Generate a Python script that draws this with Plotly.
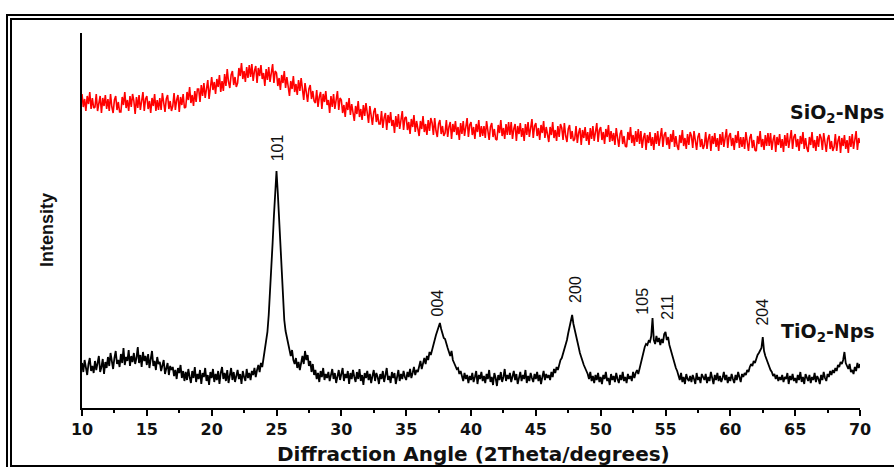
import plotly.graph_objects as go

# ---------------- data (intensity in arbitrary units) ----
angle_start = 10.0   # degrees 2-theta
angle_step = 0.1     # degrees per sample

tio2_counts = [
    45, 36, 48, 39, 33, 44, 50, 37, 42, 35,   # 10
    47, 38, 44, 52, 36, 41, 49, 34, 46, 40,   # 11
    51, 42, 55, 45, 39, 50, 57, 44, 48, 41,   # 12
    54, 45, 60, 43, 51, 47, 58, 42, 52, 46,   # 13
    55, 44, 50, 61, 45, 53, 41, 56, 47, 52,   # 14
    43, 54, 40, 49, 57, 42, 47, 38, 51, 44,   # 15
    46, 37, 43, 48, 34, 40, 45, 33, 42, 38,   # 16
    41, 32, 38, 29, 40, 35, 43, 30, 37, 27,   # 17
    36, 28, 39, 31, 25, 37, 30, 41, 26, 34,   # 18
    29, 38, 24, 35, 31, 40, 27, 33, 23, 36,   # 19
    30, 39, 26, 34, 28, 37, 24, 35, 41, 29,   # 20
    35, 27, 38, 25, 32, 40, 28, 36, 26, 33,   # 21
    38, 29, 34, 24, 37, 31, 27, 39, 30, 35,   # 22
    28, 37, 33, 40, 31, 38, 43, 36, 45, 41,   # 23
    50, 56, 64, 76, 93, 114, 140, 165, 192, 218,   # 24
    237, 215, 190, 158, 127, 104, 88, 77, 70, 63,  # 25
    57, 52, 58, 48, 44, 50, 40, 46, 38, 47,   # 26
    52, 44, 57, 48, 53, 42, 47, 36, 44, 33,   # 27
    38, 29, 35, 26, 37, 31, 40, 28, 34, 30,   # 28
    36, 27, 33, 39, 29, 35, 25, 32, 38, 28,   # 29
    33, 40, 27, 34, 30, 37, 24, 35, 29, 38,   # 30
    31, 26, 36, 29, 39, 27, 33, 23, 35, 30,   # 31
    37, 28, 34, 25, 32, 38, 27, 35, 31, 24,   # 32
    34, 29, 37, 26, 33, 40, 28, 32, 25, 36,   # 33
    30, 35, 24, 33, 38, 27, 34, 29, 37, 31,   # 34
    28, 36, 31, 39, 30, 35, 41, 33, 38, 36,   # 35
    42, 47, 39, 45, 50, 44, 52, 48, 56, 53,   # 36
    59, 64, 68, 73, 77, 81, 85, 79, 74, 70,   # 37
    69, 63, 60, 56, 52, 57, 48, 45, 42, 39,   # 38
    40, 34, 37, 31, 27, 35, 29, 33, 25, 32,   # 39
    28, 35, 26, 31, 37, 24, 33, 29, 36, 27,   # 40
    32, 25, 34, 29, 38, 26, 31, 23, 35, 30,   # 41
    22, 33, 28, 36, 26, 31, 39, 27, 33, 29,   # 42
    35, 26, 32, 37, 28, 34, 24, 31, 36, 27,   # 43
    33, 29, 38, 25, 32, 27, 35, 30, 26, 34,   # 44
    29, 36, 27, 33, 24, 31, 37, 28, 34, 30,   # 45
    33, 28, 36, 31, 39, 35, 41, 38, 44, 48,   # 46
    50, 54, 59, 63, 68, 75, 82, 88, 93, 84,   # 47
    79, 72, 68, 61, 55, 50, 46, 43, 40, 37,   # 48
    34, 29, 36, 27, 32, 25, 33, 28, 35, 26,   # 49
    31, 24, 33, 29, 36, 27, 30, 23, 34, 28,   # 50
    32, 26, 35, 29, 25, 33, 28, 36, 27, 31,   # 51
    25, 34, 29, 32, 27, 36, 30, 35, 38, 34,   # 52
    40, 45, 51, 58, 61, 64, 63, 67, 66, 72,   # 53
    90, 68, 64, 72, 66, 70, 63, 69, 65, 74,   # 54
    76, 68, 71, 63, 58, 54, 47, 44, 40, 37,   # 55
    33, 28, 35, 26, 31, 24, 34, 29, 27, 32,   # 56
    26, 33, 29, 24, 35, 28, 31, 25, 34, 30,   # 57
    28, 34, 25, 31, 27, 36, 29, 24, 33, 28,   # 58
    35, 27, 32, 26, 30, 36, 28, 33, 25, 31,   # 59
    27, 34, 29, 25, 33, 28, 36, 30, 26, 34,   # 60
    31, 35, 33, 38, 36, 41, 44, 42, 47, 45,   # 61
    50, 53, 55, 57, 60, 71, 57, 52, 48, 44,   # 62
    42, 38, 36, 32, 34, 29, 33, 27, 31, 28,   # 63
    33, 26, 31, 29, 35, 24, 32, 28, 34, 27,   # 64
    30, 25, 33, 28, 36, 26, 31, 24, 34, 29,   # 65
    27, 33, 25, 31, 28, 35, 26, 32, 29, 24,   # 66
    33, 28, 36, 30, 27, 34, 31, 37, 33, 38,   # 67
    35, 40, 37, 43, 41, 46, 44, 48, 56, 45,   # 68
    42, 39, 44, 36, 38, 34, 41, 37, 45, 40,   # 69
    44,                                       # 70
]

sio2_counts = [
    314, 301, 309, 297, 312, 304, 316, 299, 310, 300,   # 10
    301, 314, 297, 307, 312, 295, 310, 302, 313, 299,   # 11
    309, 297, 314, 301, 295, 308, 312, 298, 306, 296,   # 12
    296, 311, 303, 316, 300, 308, 297, 312, 301, 314,   # 13
    307, 294, 311, 300, 313, 298, 305, 316, 297, 309,   # 14
    312, 299, 307, 295, 310, 302, 314, 297, 308, 298,   # 15
    310, 298, 315, 302, 296, 309, 313, 299, 307, 297,   # 16
    302, 315, 298, 308, 313, 296, 311, 303, 314, 300,   # 17
    301, 316, 308, 321, 305, 313, 302, 317, 306, 319,   # 18
    319, 306, 323, 312, 325, 310, 317, 328, 309, 321,   # 19
    331, 318, 326, 314, 329, 321, 333, 316, 327, 317,   # 20
    334, 322, 339, 326, 320, 333, 337, 323, 331, 321,   # 21
    325, 340, 332, 345, 329, 337, 326, 341, 330, 343,   # 22
    331, 344, 327, 337, 342, 325, 340, 332, 343, 329,   # 23
    335, 322, 339, 328, 341, 326, 333, 344, 325, 337,   # 24
    335, 322, 330, 318, 333, 325, 337, 320, 331, 321,   # 25
    312, 327, 319, 332, 316, 324, 313, 328, 317, 330,   # 26
    320, 308, 325, 312, 306, 319, 323, 309, 317, 307,   # 27
    305, 318, 301, 311, 316, 299, 314, 306, 317, 303,   # 28
    308, 295, 312, 301, 314, 299, 306, 317, 298, 310,   # 29
    308, 295, 303, 291, 306, 298, 310, 293, 304, 294,   # 30
    287, 302, 294, 307, 291, 299, 288, 303, 292, 305,   # 31
    297, 285, 302, 289, 283, 296, 300, 286, 294, 284,   # 32
    284, 297, 280, 290, 295, 278, 293, 285, 296, 282,   # 33
    288, 275, 292, 281, 294, 279, 286, 297, 278, 290,   # 34
    291, 278, 286, 274, 289, 281, 293, 276, 287, 277,   # 35
    272, 287, 279, 292, 276, 284, 273, 288, 277, 290,   # 36
    285, 273, 290, 277, 271, 284, 288, 274, 282, 272,   # 37
    275, 288, 271, 281, 286, 269, 284, 276, 287, 273,   # 38
    281, 268, 285, 274, 287, 272, 279, 290, 271, 283,   # 39
    286, 273, 281, 269, 284, 276, 288, 271, 282, 272,   # 40
    282, 270, 287, 274, 268, 281, 285, 271, 279, 269,   # 41
    268, 283, 275, 288, 272, 280, 269, 284, 273, 286,   # 42
    273, 286, 269, 279, 284, 267, 282, 274, 285, 271,   # 43
    280, 267, 284, 273, 286, 271, 278, 289, 270, 282,   # 44
    285, 272, 280, 268, 283, 275, 287, 270, 281, 271,   # 45
    266, 281, 273, 286, 270, 278, 267, 282, 271, 284,   # 46
    280, 268, 285, 272, 266, 279, 283, 269, 277, 267,   # 47
    269, 282, 265, 275, 280, 263, 278, 270, 281, 267,   # 48
    276, 263, 280, 269, 282, 267, 274, 285, 266, 278,   # 49
    281, 268, 276, 264, 279, 271, 283, 266, 277, 267,   # 50
    275, 263, 280, 267, 261, 274, 278, 264, 272, 262,   # 51
    261, 276, 268, 281, 265, 273, 262, 277, 266, 279,   # 52
    264, 277, 260, 270, 275, 258, 273, 265, 276, 262,   # 53
    271, 258, 275, 264, 277, 262, 269, 280, 261, 273,   # 54
    276, 263, 271, 259, 274, 266, 278, 261, 272, 262,   # 55
    258, 273, 265, 278, 262, 270, 259, 274, 263, 276,   # 56
    272, 260, 277, 264, 258, 271, 275, 261, 269, 259,   # 57
    263, 276, 259, 269, 274, 257, 272, 264, 275, 261,   # 58
    270, 257, 274, 263, 276, 261, 268, 279, 260, 272,   # 59
    275, 262, 270, 258, 273, 265, 277, 260, 271, 261,   # 60
    271, 259, 276, 263, 257, 270, 274, 260, 268, 258,   # 61
    257, 272, 264, 277, 261, 269, 258, 273, 262, 275,   # 62
    262, 275, 258, 268, 273, 256, 271, 263, 274, 260,   # 63
    269, 256, 273, 262, 275, 260, 267, 278, 259, 271,   # 64
    274, 261, 269, 257, 272, 264, 276, 259, 270, 260,   # 65
    256, 271, 263, 276, 260, 268, 257, 272, 261, 274,   # 66
    270, 258, 275, 262, 256, 269, 273, 259, 267, 257,   # 67
    261, 274, 257, 267, 272, 255, 270, 262, 273, 259,   # 68
    268, 255, 272, 261, 274, 259, 266, 277, 258, 270,   # 69
    265,                                                 # 70
]

peak_hkl = ["101", "004", "200", "105", "211", "204"]
peak_angle = [25.1, 37.45, 48.05, 53.2, 55.1, 62.45]

x_ticks = [10, 15, 20, 25, 30, 35, 40, 45, 50, 55, 60, 65, 70]

# ---------------- derived sampling grid ----------------
two_theta = [round(angle_start + angle_step * i, 2) for i in range(len(tio2_counts))]

# ---------------- layout helpers (pixel -> paper) ----------------
L, R, T, B = 82, 860, 33, 408
def px_x(p):
    return (p - L) / (R - L)
def px_y(p):
    return (B - p) / (B - T)

label_base = [245, 90, 103, 91, 86, 80]   # bottom of each hkl label, in intensity units

fig = go.Figure()
fig.add_trace(go.Scatter(x=two_theta, y=sio2_counts, mode="lines",
                         line=dict(color="#ff0000", width=1.6), hoverinfo="skip"))
fig.add_trace(go.Scatter(x=two_theta, y=tio2_counts, mode="lines",
                         line=dict(color="#000000", width=1.8), hoverinfo="skip"))

tick_font = dict(family="DejaVu Sans", size=16, color="#111111", weight="bold")

fig.update_layout(
    width=894, height=467,
    margin=dict(l=L, r=894 - R, t=T, b=467 - B),
    paper_bgcolor="white", plot_bgcolor="white",
    showlegend=False,
    xaxis=dict(range=[10, 70], tickvals=x_ticks, ticktext=[str(v) for v in x_ticks],
               ticks="outside", ticklen=6, tickwidth=2, tickcolor="black",
               showline=True, linewidth=2, linecolor="black",
               showgrid=False, zeroline=False, tickfont=tick_font,
               minor=dict(dtick=2.5, tick0=10, ticks="outside", ticklen=3,
                          tickwidth=1.5, tickcolor="black", showgrid=False)),
    yaxis=dict(range=[0, 375], showline=True, linewidth=2, linecolor="black",
               showticklabels=False, ticks="", showgrid=False, zeroline=False),
)

# double frame
fig.add_shape(type="rect", xref="paper", yref="paper",
              x0=px_x(7), y0=px_y(15), x1=px_x(905), y1=px_y(480),
              line=dict(color="black", width=2))
fig.add_shape(type="rect", xref="paper", yref="paper",
              x0=px_x(11), y0=px_y(19), x1=px_x(905), y1=px_y(466),
              line=dict(color="black", width=2))

ann = []
ann.append(dict(text="Intensity", xref="paper", yref="paper", x=px_x(47), y=px_y(230),
                textangle=-90, showarrow=False, xanchor="center", yanchor="middle",
                font=dict(family="Liberation Sans", size=18, color="#111111", weight="bold")))
ann.append(dict(text="Diffraction Angle (2Theta/degrees)", xref="paper", yref="paper",
                x=px_x(473), y=px_y(454), showarrow=False, xanchor="center", yanchor="middle",
                font=dict(family="DejaVu Sans", size=20, color="#111111", weight="bold")))
ann.append(dict(text="SiO<sub>2</sub>-Nps", xref="paper", yref="paper",
                x=px_x(788), y=px_y(113), showarrow=False, xanchor="left", yanchor="middle",
                font=dict(family="DejaVu Sans", size=19, color="#111111", weight="bold")))
ann.append(dict(text="TiO<sub>2</sub>-Nps", xref="paper", yref="paper",
                x=px_x(779), y=px_y(332), showarrow=False, xanchor="left", yanchor="middle",
                font=dict(family="DejaVu Sans", size=19, color="#111111", weight="bold")))
for hkl, ang, yb in zip(peak_hkl, peak_angle, label_base):
    ann.append(dict(text=hkl, xref="x", yref="y", x=ang, y=yb, textangle=-90,
                    showarrow=False, xanchor="center", yanchor="bottom",
                    font=dict(family="Liberation Sans", size=16, color="#111111")))
fig.update_layout(annotations=ann)

fig.write_html("out.html", config={"displayModeBar": False},
               post_script="document.body.style.margin='0';")
